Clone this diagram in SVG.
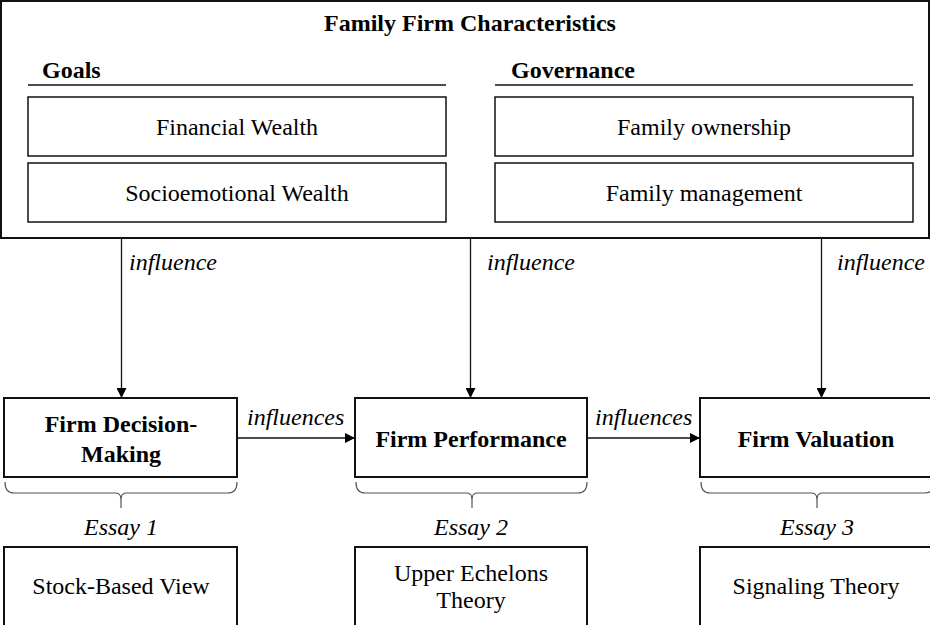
<svg xmlns="http://www.w3.org/2000/svg" width="930" height="625" viewBox="0 0 930 625">
<defs>
<marker id="arr" markerWidth="10" markerHeight="10" refX="10" refY="5" orient="auto" markerUnits="userSpaceOnUse">
<path d="M0,0 L10,5 L0,10 z" fill="#000"/>
</marker>
<style>
text{font-family:"Liberation Serif","Times New Roman",serif;font-size:24px;fill:#000}
.b{font-weight:bold}
.i{font-style:italic}
.m{text-anchor:middle}
.box{fill:#fff;stroke:#111;stroke-width:1.5}
.node{fill:#fff;stroke:#111;stroke-width:2}
.ln{stroke:#111;stroke-width:1.3;fill:none}
.brace{stroke:#555;stroke-width:1.2;fill:none}
</style>
</defs>
<rect width="930" height="625" fill="#fff"/>

<g id="characteristics">
<rect x="1" y="1" width="928" height="237" fill="#fff" stroke="#111" stroke-width="2"/>
<text class="b m" x="470" y="31">Family Firm Characteristics</text>
<text class="b" x="42" y="78">Goals</text>
<line class="ln" x1="28" y1="85" x2="446" y2="85"/>
<text class="b" x="511" y="78">Governance</text>
<line class="ln" x1="495" y1="85" x2="913" y2="85"/>
</g>
<g id="financial"><rect class="box" x="28" y="97" width="418" height="59"/><text class="m" x="237" y="135">Financial Wealth</text></g>
<g id="socioemotional"><rect class="box" x="28" y="163" width="418" height="59"/><text class="m" x="237" y="201">Socioemotional Wealth</text></g>
<g id="ownership"><rect class="box" x="495" y="97" width="418" height="59"/><text class="m" x="704" y="135">Family ownership</text></g>
<g id="management"><rect class="box" x="495" y="163" width="418" height="59"/><text class="m" x="704" y="201">Family management</text></g>

<g id="decision"><rect class="node" x="4" y="398" width="233" height="79"/><text class="b m" x="121" y="432">Firm Decision-</text><text class="b m" x="121" y="462">Making</text></g>
<g id="performance"><rect class="node" x="355" y="398" width="232" height="79"/><text class="b m" x="471" y="447">Firm Performance</text></g>
<g id="valuation"><rect class="node" x="700" y="398" width="233" height="79"/><text class="b m" x="816" y="447">Firm Valuation</text></g>

<g id="stock"><rect class="node" x="4" y="547" width="233" height="90"/><text class="m" x="121" y="594">Stock-Based View</text></g>
<g id="upper"><rect class="node" x="355" y="547" width="232" height="90"/><text class="m" x="471" y="581">Upper Echelons</text><text class="m" x="471" y="608">Theory</text></g>
<g id="signaling"><rect class="node" x="700" y="547" width="233" height="90"/><text class="m" x="816" y="594">Signaling Theory</text></g>

<g id="essays">
<path class="brace" d="M5,482 Q5,493 14,493 H116 Q121,493 121,500 V508 M121,500 Q121,493 126,493 H228 Q237,493 237,482"/>
<path class="brace" d="M356,482 Q356,493 365,493 H467 Q472,493 472,500 V508 M472,500 Q472,493 477,493 H578 Q587,493 587,482"/>
<path class="brace" d="M701,482 Q701,493 710,493 H812 Q817,493 817,500 V508 M817,500 Q817,493 822,493 H925 Q934,493 934,482"/>
<text class="i m" x="121" y="535">Essay 1</text>
<text class="i m" x="471" y="535">Essay 2</text>
<text class="i m" x="817" y="535">Essay 3</text>
</g>

<g id="connectors">
<line class="ln" x1="121.5" y1="239" x2="121.5" y2="398" marker-end="url(#arr)"/>
<line class="ln" x1="470.5" y1="239" x2="470.5" y2="398" marker-end="url(#arr)"/>
<line class="ln" x1="821.5" y1="239" x2="821.5" y2="398" marker-end="url(#arr)"/>
<line class="ln" x1="237" y1="438" x2="355" y2="438" marker-end="url(#arr)"/>
<line class="ln" x1="587" y1="438" x2="700" y2="438" marker-end="url(#arr)"/>
<text class="i" x="129" y="270">influence</text>
<text class="i" x="487" y="270">influence</text>
<text class="i" x="837" y="270">influence</text>
<text class="i" x="247" y="425">influences</text>
<text class="i" x="595" y="425">influences</text>
</g>
</svg>
